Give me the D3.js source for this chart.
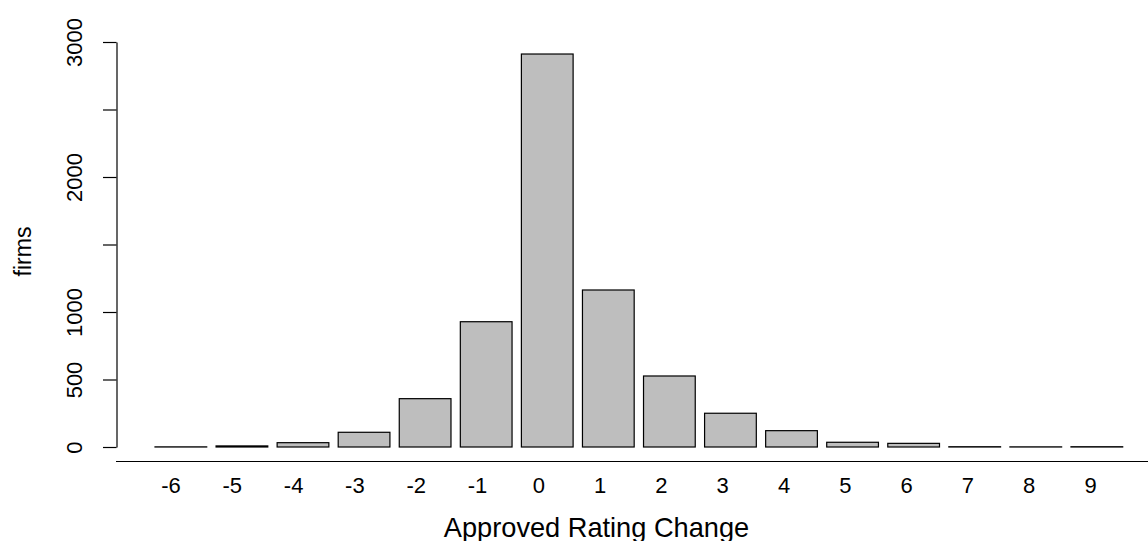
<!DOCTYPE html>
<html>
<head>
<meta charset="utf-8">
<script src="https://cdn.jsdelivr.net/npm/d3@7"></script>
<style>
  html, body { margin: 0; padding: 0; background: #fff; }
  svg { display: block; font-family: "Liberation Sans", Arial, sans-serif; }
</style>
</head>
<body>
<svg id="chart" width="1148" height="541"></svg>
<script>
// Rating change categories and number of firms in each
const categories = ["-6", "-5", "-4", "-3", "-2", "-1", "0", "1", "2", "3", "4", "5", "6", "7", "8", "9"];
const firms = [1, 8, 32, 109, 358, 928, 2911, 1163, 526, 250, 121, 35, 27, 2, 1, 2];

// Y axis ticks; 1500 and 2500 carry a tick mark but no label
const yTicks = [0, 500, 1000, 1500, 2000, 2500, 3000];
const yTickLabels = ["0", "500", "1000", "", "2000", "", "3000"];

const xTitle = "Approved Rating Change";
const yTitle = "firms";

const svg = d3.select("#chart");

const x = d3.scaleBand()
  .domain(categories)
  .range([155, 1122.7])
  .paddingInner(0.153)
  .paddingOuter(0);

// category labels sit on their own evenly spaced positions
const xLabel = d3.scalePoint()
  .domain(categories)
  .range([170.5, 1090]);

const y = d3.scaleLinear()
  .domain([0, 3000])
  .range([447, 42]);

// bars
svg.append("g")
  .selectAll("rect")
  .data(categories.map((c, i) => ({ c, v: firms[i] })))
  .join("rect")
  .attr("x", d => x(d.c))
  .attr("y", d => y(d.v))
  .attr("width", x.bandwidth())
  .attr("height", d => y(0) - y(d.v))
  .attr("fill", "#bebebe")
  .attr("stroke", "#000")
  .attr("stroke-width", 1.2);

// y axis
const yAxis = d3.axisLeft(y)
  .tickValues(yTicks)
  .tickFormat((d, i) => yTickLabels[i])
  .tickSize(13.5)
  .tickSizeOuter(0);

const gy = svg.append("g")
  .attr("transform", "translate(116.5,0)")
  .call(yAxis);
gy.select(".domain").attr("stroke", "#000").attr("stroke-width", 1.2);
gy.selectAll(".tick line").attr("stroke", "#000").attr("stroke-width", 1.2);
gy.selectAll(".tick text")
  .attr("transform", "rotate(-90)")
  .attr("x", 0)
  .attr("y", -34.5)
  .attr("dy", null)
  .attr("text-anchor", "middle")
  .attr("font-size", 22)
  .attr("font-family", "Liberation Sans, Arial, sans-serif")
  .attr("fill", "#000");

// x axis: a plain rule under the bars plus category labels
svg.append("line")
  .attr("x1", 116)
  .attr("x2", 1148)
  .attr("y1", 461.5)
  .attr("y2", 461.5)
  .attr("stroke", "#000")
  .attr("stroke-width", 1.2);

const xAxis = d3.axisBottom(xLabel)
  .tickSize(0)
  .tickPadding(16.4);

const gx = svg.append("g")
  .attr("transform", "translate(0,461)")
  .call(xAxis);
gx.select(".domain").remove();
gx.selectAll(".tick text")
  .attr("font-size", 22)
  .attr("font-family", "Liberation Sans, Arial, sans-serif")
  .attr("fill", "#000");

// axis titles
svg.append("text")
  .attr("x", 596.5)
  .attr("y", 536.5)
  .attr("text-anchor", "middle")
  .attr("font-size", 27.2)
  .attr("fill", "#000")
  .text(xTitle);

svg.append("text")
  .attr("transform", "translate(30.5,251.5) rotate(-90)")
  .attr("text-anchor", "middle")
  .attr("font-size", 23)
  .attr("fill", "#000")
  .text(yTitle);
</script>
</body>
</html>
